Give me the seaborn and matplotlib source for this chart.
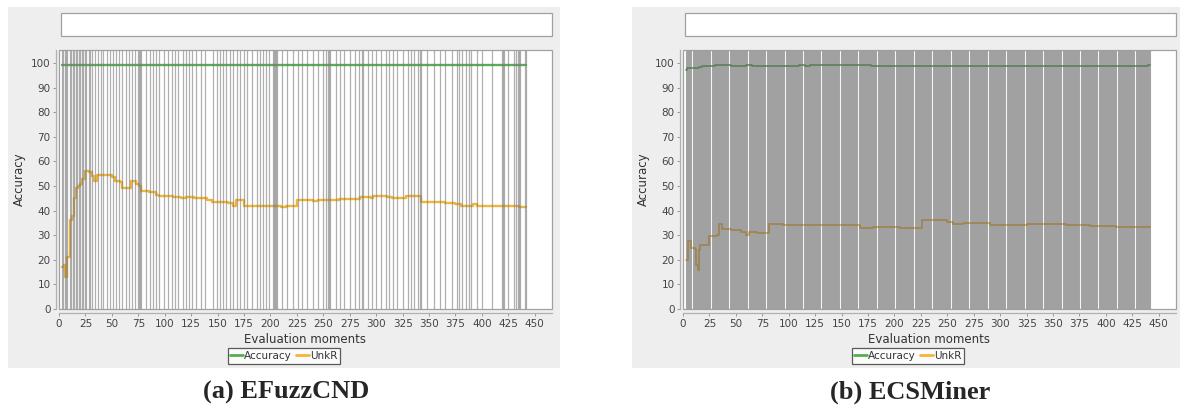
import numpy as np
import pandas as pd
import matplotlib
matplotlib.use("Agg")
import matplotlib.pyplot as plt
import seaborn as sns
from matplotlib.patches import Rectangle
from matplotlib.lines import Line2D

sns.set_theme(style="white")
plt.rcParams["font.family"] = ["DejaVu Sans"]

# ---------------- data ----------------
series_names = ["Accuracy", "UnkR"]
x_ticks = list(range(0, 475, 25))
y_ticks = list(range(0, 110, 10))
captions = ["(a) EFuzzCND", "(b) ECSMiner"]

# EFuzzCND
efz_acc_x = [3, 20, 117, 442]
efz_acc_y = [99.0, 99.4, 99.2, 99.2]
efz_unk_x = [3, 5, 6, 8, 10, 12, 14, 16, 18, 20, 22, 25, 28, 31, 33, 36, 45, 50, 53, 58, 60,
             66, 68, 73, 76, 78, 85, 92, 95, 105, 108, 115, 120, 128, 135, 140, 145, 160, 165,
             167, 175, 190, 205, 210, 215, 220, 225, 240, 245, 260, 265, 285, 295, 297, 310,
             315, 325, 328, 342, 355, 365, 375, 380, 392, 395, 420, 425, 435, 442]
efz_unk_y = [17, 18, 13, 21, 36, 38, 45, 49, 50, 51, 53, 56, 55.5, 54, 52, 54.5, 54.5, 53.5, 52,
             51.5, 49, 49, 52, 51, 50, 48, 47.5, 46.5, 46, 46, 45.5, 45, 45.5, 45.2, 45, 44.5,
             43.5, 43, 42, 44.5, 42, 41.7, 41.7, 41.3, 42, 41.7, 44.3, 44, 44.3, 44.2, 44.6,
             45.7, 45.2, 45.8, 45.5, 45, 45, 45.8, 43.5, 43.3, 43, 42.7, 42, 42.5, 42, 42,
             41.7, 41.3, 41.3]
efz_novelty = [3, 4, 6, 7, 8, 10, 11, 13, 14, 16, 17, 19, 20, 22, 23, 25, 26, 28, 29, 31, 34,
               37, 40, 42, 45, 48, 51, 54, 57, 60, 63, 66, 69, 72, 75, 76, 77, 78, 82, 86, 89,
               92, 95, 99, 103, 107, 110, 113, 117, 120, 123, 126, 130, 134, 138, 146, 149,
               152, 155, 158, 162, 165, 168, 171, 175, 178, 183, 187, 190, 193, 196, 199, 202,
               203, 204, 205, 206, 211, 216, 221, 226, 230, 235, 240, 245, 250, 253, 254, 255,
               256, 262, 266, 270, 275, 280, 284, 287, 288, 292, 296, 300, 305, 309, 312, 316,
               320, 325, 330, 333, 336, 340, 341, 342, 348, 355, 360, 365, 372, 376, 378, 381,
               385, 388, 390, 395, 400, 410, 419, 420, 421, 425, 430, 432, 434, 435, 436, 441,
               442]

# ECSMiner
ecs_acc_x = [3, 4, 12, 15, 18, 25, 30, 45, 60, 65, 110, 115, 120, 178, 250, 440, 442]
ecs_acc_y = [97, 98, 98, 98.3, 98.6, 98.8, 99.1, 98.8, 99.2, 98.8, 99.1, 98.8, 99.1, 98.8,
             98.8, 99.2, 99.2]
ecs_unk_x = [3, 5, 8, 11, 12, 14, 15, 16, 25, 32, 34, 37, 45, 55, 60, 62, 70, 80, 81, 95, 125,
             150, 167, 180, 200, 205, 222, 226, 250, 255, 265, 290, 325, 345, 362, 385, 410, 442]
ecs_unk_y = [20, 27.5, 25, 24.5, 18, 16, 24, 26, 29.5, 30, 34.5, 32.5, 32, 31.5, 30, 31.5, 31,
             30.8, 34.5, 34, 34, 34.2, 33, 33.3, 33.5, 33, 33, 36.2, 35.5, 34.5, 34.8, 34.3,
             34.5, 34.5, 34, 33.8, 33.3, 33.3]
ecs_novelty = list(range(3, 443))  # a novelty flag at (almost) every evaluation moment

colors = {"Accuracy": "#55AE51", "UnkR": "#F2B634"}

# ---------------- layout ----------------
W, H = 1180, 407
fig = plt.figure(figsize=(W / 100, H / 100), dpi=100)
fig.patch.set_facecolor("white")


def rect(x0, y0, x1, y1):
    return [x0 / W, 1 - y1 / H, (x1 - x0) / W, (y1 - y0) / H]


def add_box(x0, y0, x1, y1, fc, ec):
    r = rect(x0, y0, x1, y1)
    fig.add_artist(Rectangle((r[0], r[1]), r[2], r[3], transform=fig.transFigure,
                             facecolor=fc, edgecolor=ec, lw=0.9, zorder=0))


def panel(off, acc_x, acc_y, unk_x, unk_y, novelty, caption, lw, nov_color, nov_lw, nov_alpha):
    add_box(8 + off, 7, min(560 + off, W), 368, "#EEEEEE", "none")
    add_box(61 + off, 13, 552 + off, 36, "white", "#A0A0A0")
    ax = fig.add_axes(rect(59 + off, 50, 552 + off, 309))
    ax.set_facecolor("white")

    df = pd.concat([
        pd.DataFrame({"moment": acc_x, "value": acc_y, "series": "Accuracy"}),
        pd.DataFrame({"moment": unk_x, "value": unk_y, "series": "UnkR"}),
    ], ignore_index=True)
    sns.lineplot(data=df, x="moment", y="value", hue="series", palette=colors,
                 hue_order=series_names, estimator=None, sort=True, drawstyle="steps-post",
                 linewidth=lw, legend=False, ax=ax, zorder=2)
    ax.vlines(novelty, 0, 1, transform=ax.get_xaxis_transform(), colors=nov_color,
              linewidth=nov_lw, alpha=nov_alpha, zorder=3)

    ax.set_xlim(1.2, 466.3)
    ax.set_ylim(0, 105.3)
    ax.set_xticks(x_ticks)
    ax.set_yticks(y_ticks)
    ax.set_xlabel("Evaluation moments", fontsize=8.5, color="#333333", labelpad=3)
    ax.set_ylabel("Accuracy", fontsize=8.5, color="#333333", labelpad=4)
    for s in ["top", "right"]:
        ax.spines[s].set_visible(False)
    ax.spines["left"].set_position(("outward", 2))
    ax.spines["bottom"].set_position(("outward", 3))
    for s in ["left", "bottom"]:
        ax.spines[s].set_color("#B0B0B0")
        ax.spines[s].set_linewidth(0.9)
    ax.add_patch(Rectangle((0, 0), 1, 1, transform=ax.transAxes, fill=False,
                           edgecolor="#A0A0A0", lw=0.9, clip_on=False, zorder=5))
    ax.tick_params(bottom=True, left=True, direction="out", length=2, width=0.7,
                   color="#999999", labelsize=7.5, labelcolor="#444444", pad=2)

    handles = [Line2D([], [], color=colors[n], lw=2) for n in series_names]
    leg = fig.legend(handles, series_names, loc="center",
                     bbox_to_anchor=((284 + off) / W, 1 - 356 / H), ncol=2, fontsize=7.5,
                     frameon=True, fancybox=False, handlelength=1.2, handletextpad=0.15,
                     columnspacing=0.4, borderpad=0.25, borderaxespad=0)
    leg.get_frame().set_edgecolor("#333333")
    leg.get_frame().set_linewidth(0.9)
    for t in leg.get_texts():
        t.set_color("#333333")

    fig.text((286 + off) / W, 1 - 392 / H, caption, ha="center", va="center",
             fontsize=19, fontweight="bold", family=["Liberation Serif", "DejaVu Serif"])
    return ax


panel(0, efz_acc_x, efz_acc_y, efz_unk_x, efz_unk_y, efz_novelty, captions[0], 1.7,
      "#7A7A7A", 0.9, 0.6)
panel(624, ecs_acc_x, ecs_acc_y, ecs_unk_x, ecs_unk_y, ecs_novelty, captions[1], 1.3,
      "#6A6A6A", 0.8, 0.6)

fig.savefig("out.png", dpi=100)
